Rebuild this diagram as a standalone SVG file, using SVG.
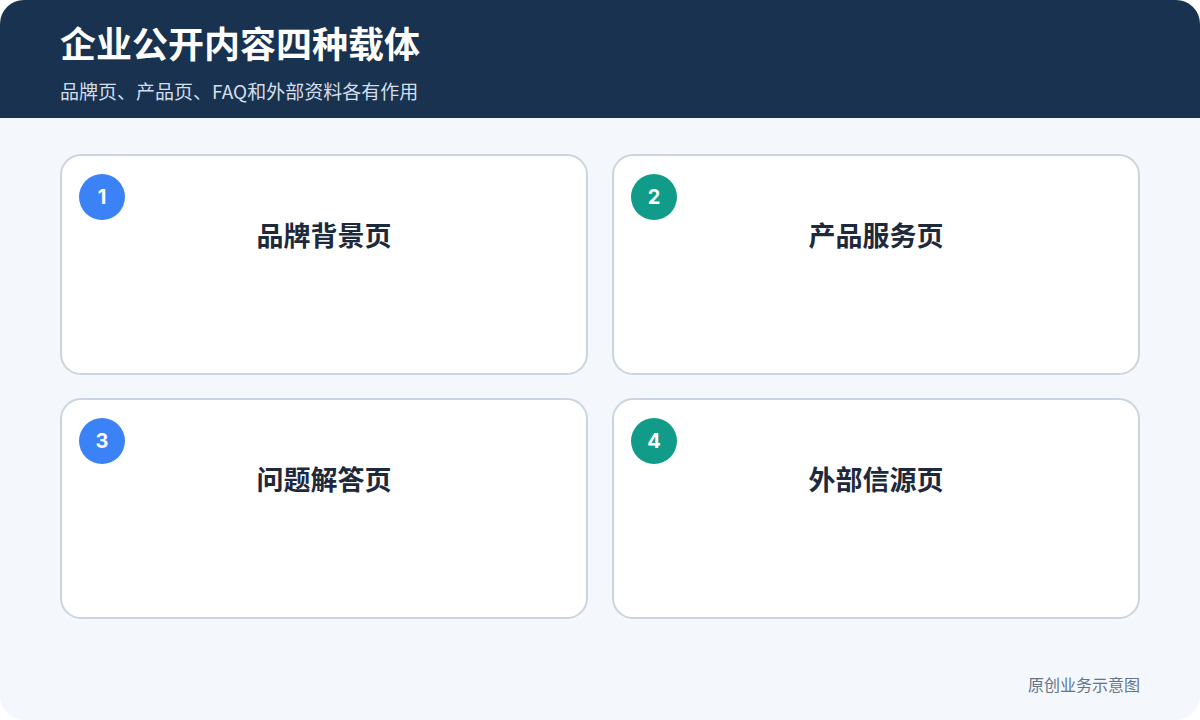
<svg xmlns="http://www.w3.org/2000/svg" width="1200" height="720" viewBox="0 0 1200 720">
<defs>
<clipPath id="frame"><rect x="0" y="0" width="1200" height="720" rx="24"/></clipPath>
<style>
.card{fill:#FFFFFF;stroke:#CBD5E1;stroke-width:2}
.badge-text{font-family:"Inter","Noto Sans",sans-serif;font-size:20px;font-weight:700;fill:#FFFFFF;text-anchor:middle}
.label{font-family:"Noto Sans CJK SC","Noto Sans",sans-serif;font-size:27px;font-weight:700;fill:#1E293B;text-anchor:middle}
</style>
</defs>
<rect width="1200" height="720" fill="#FFFFFF"/>
<g clip-path="url(#frame)">
<rect width="1200" height="720" fill="#F4F7FC"/>
<rect width="1200" height="118" fill="#18324F"/>
</g>
<text x="60" y="58" font-family="Noto Sans CJK SC, sans-serif" font-size="36" font-weight="700" fill="#FFFFFF">企业公开内容四种载体</text>
<text x="60" y="99" font-family="Noto Sans CJK SC, sans-serif" font-size="19" fill="#D3DEEB">品牌页、产品页、FAQ和外部资料各有作用</text>
<g id="node1">
<rect class="card" x="61" y="155" width="526" height="219" rx="20"/>
<circle cx="102" cy="197" r="23" fill="#3B82F6"/>
<text class="badge-text" x="102" y="204">1</text>
<text class="label" x="324" y="246">品牌背景页</text>
</g>
<g id="node2">
<rect class="card" x="613" y="155" width="526" height="219" rx="20"/>
<circle cx="654" cy="197" r="23" fill="#109C88"/>
<text class="badge-text" x="654" y="204">2</text>
<text class="label" x="876" y="246">产品服务页</text>
</g>
<g id="node3">
<rect class="card" x="61" y="399" width="526" height="219" rx="20"/>
<circle cx="102" cy="441" r="23" fill="#3B82F6"/>
<text class="badge-text" x="102" y="448">3</text>
<text class="label" x="324" y="490">问题解答页</text>
</g>
<g id="node4">
<rect class="card" x="613" y="399" width="526" height="219" rx="20"/>
<circle cx="654" cy="441" r="23" fill="#109C88"/>
<text class="badge-text" x="654" y="448">4</text>
<text class="label" x="876" y="490">外部信源页</text>
</g>
<g id="connectors"/>
<text x="1140" y="691" text-anchor="end" font-family="Noto Sans CJK SC, sans-serif" font-size="16" fill="#64748B">原创业务示意图</text>
</svg>
